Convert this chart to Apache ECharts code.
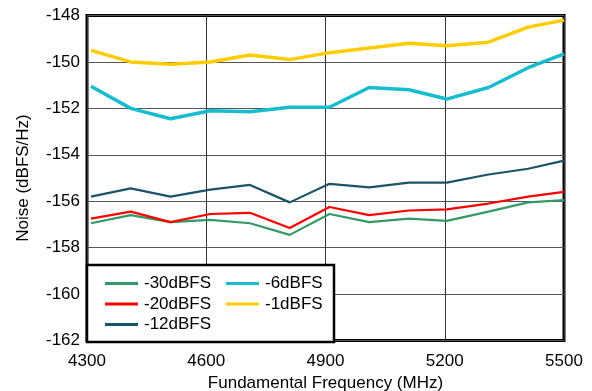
<!DOCTYPE html>
<html>
<head>
<meta charset="utf-8">
<script src="https://cdn.jsdelivr.net/npm/echarts@6/dist/echarts.min.js"></script>
<style>
  html, body { margin: 0; padding: 0; background: #fff; }
  #chart { width: 592px; height: 391px; }
</style>
</head>
<body>
<div id="chart"></div>
<script>
// frequency (MHz) of each measured point
const freq = [4310, 4410, 4510, 4610, 4710, 4810, 4910, 5010, 5110, 5205, 5310, 5410, 5500]

// noise (dBFS/Hz) per input level
const n30 = [-156.95, -156.6, -156.9, -156.8, -156.95, -157.45, -156.55, -156.9, -156.75, -156.85, -156.45, -156.05, -155.95]
const n20 = [-156.75, -156.45, -156.9, -156.55, -156.5, -157.15, -156.25, -156.6, -156.4, -156.35, -156.1, -155.8, -155.6]
const n12 = [-155.8, -155.45, -155.8, -155.5, -155.3, -156.05, -155.25, -155.4, -155.2, -155.2, -154.85, -154.6, -154.25]
const n6 = [-151.05, -152.0, -152.45, -152.1, -152.15, -151.95, -151.95, -151.1, -151.2, -151.6, -151.1, -150.25, -149.65]
const n1 = [-149.5, -150.0, -150.1, -150.0, -149.7, -149.9, -149.6, -149.4, -149.2, -149.3, -149.15, -148.5, -148.2]

const FONT = '"Liberation Sans", Arial, Helvetica, sans-serif'

function pairs(ys) {
  return freq.map((x, i) => [x, ys[i]])
}

function line(name, ys, color, width) {
  return {
    name,
    type: 'line',
    data: pairs(ys),
    symbol: 'none',
    lineStyle: { color, width },
    itemStyle: { color },
    z: 3,
  }
}

const chart = echarts.init(document.getElementById('chart'), null, { renderer: 'canvas' })

const legendCommon = {
  orient: 'vertical',
  icon: 'rect',
  itemWidth: 33,
  itemHeight: 3,
  itemGap: 3.5,
  z: 6,
  textStyle: { fontFamily: FONT, fontSize: 17, color: '#000', padding: [0, 0, 0, 1] },
}

chart.setOption({
  animation: false,
  backgroundColor: '#fff',
  textStyle: { fontFamily: FONT },
  grid: {
    left: 87, top: 15.5, width: 477, height: 325,
    outerBoundsMode: 'none',
    show: true, borderColor: '#000', borderWidth: 3,
  },
  xAxis: {
    type: 'value',
    min: 4300, max: 5500, interval: 300,
    name: 'Fundamental Frequency (MHz)',
    nameLocation: 'middle',
    nameGap: 33,
    nameTextStyle: { fontFamily: FONT, fontSize: 17, color: '#000' },
    axisLine: { show: false },
    axisTick: { show: false },
    axisLabel: { fontFamily: FONT, fontSize: 17, color: '#000', margin: 12, formatter: (v) => String(v) },
    splitLine: { lineStyle: { color: '#333', width: 1 } },
  },
  yAxis: {
    type: 'value',
    min: -162, max: -148, interval: 2,
    name: 'Noise (dBFS/Hz)',
    nameLocation: 'middle',
    nameGap: 55,
    nameTextStyle: { fontFamily: FONT, fontSize: 17, color: '#000' },
    axisLine: { show: false },
    axisTick: { show: false },
    axisLabel: { fontFamily: FONT, fontSize: 17, color: '#000', margin: 7 },
    splitLine: { lineStyle: { color: '#555', width: 1 } },
  },
  legend: [
    Object.assign({}, legendCommon, { left: 100, top: 270, data: ['-30dBFS', '-20dBFS', '-12dBFS'] }),
    Object.assign({}, legendCommon, { left: 221, top: 270, data: ['-6dBFS', '-1dBFS'] }),
  ],
  graphic: [{
    type: 'rect',
    z: 5,
    shape: { x: 87, y: 265, width: 247, height: 77 },
    style: { fill: '#fff', stroke: '#000', lineWidth: 2.5 },
  }],
  series: [
    line('-30dBFS', n30, '#339966', 2.2),
    line('-20dBFS', n20, '#ff0000', 2.2),
    line('-12dBFS', n12, '#1a5468', 2.2),
    line('-6dBFS', n6, '#17bccf', 3.5),
    line('-1dBFS', n1, '#ffcc00', 3.5),
  ],
})
</script>
</body>
</html>
